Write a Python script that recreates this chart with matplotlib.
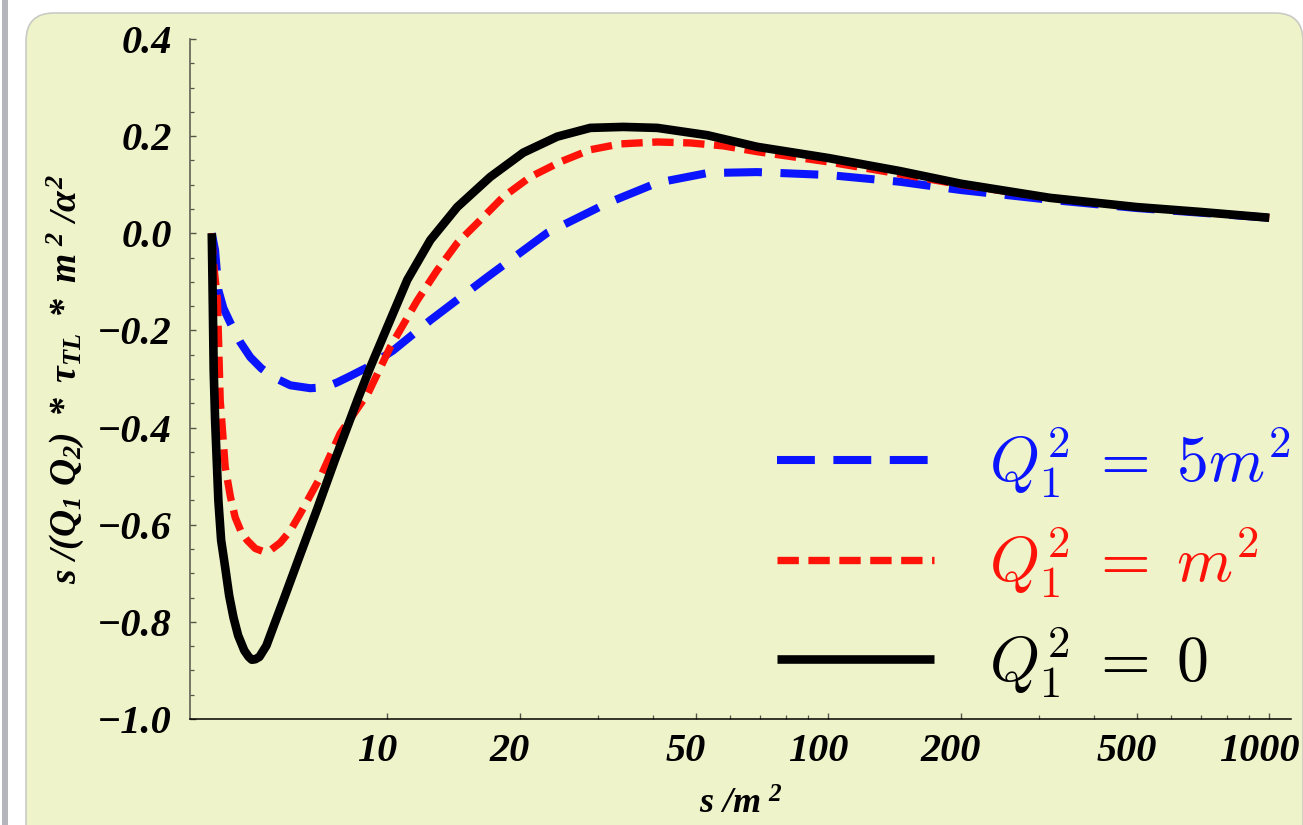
"""Light-by-light style tau_TL curves vs s/m^2 for three Q1^2 values."""

import matplotlib
matplotlib.use("Agg")
import matplotlib.pyplot as plt
import matplotlib.transforms as mtransforms
from matplotlib.font_manager import FontProperties
from matplotlib.patches import FancyBboxPatch, Rectangle

# s/m^2 sample points and curve values
s_q0 = [4.0, 4.02, 4.04, 4.07, 4.14, 4.20, 4.29, 4.38, 4.48, 4.59, 4.74, 4.85,
        4.93, 5.02, 5.13, 5.32, 5.54, 5.81, 6.35, 6.94, 7.62, 8.24, 8.60, 9.15,
        10.0, 11.1, 12.52, 14.41, 17.12, 20.34, 24.29, 28.86, 34.28, 40.95,
        53.17, 69.0, 100.0, 145.5, 200.0, 318.0, 500.0, 697.0, 1000.0]
tau_q0 = [0.0, -0.138, -0.282, -0.385, -0.550, -0.632, -0.688, -0.746, -0.791,
          -0.828, -0.859, -0.872, -0.878, -0.877, -0.872, -0.849, -0.806, -0.756,
          -0.661, -0.567, -0.465, -0.383, -0.338, -0.276, -0.193, -0.096, -0.014,
          0.054, 0.116, 0.166, 0.199, 0.217, 0.219, 0.217, 0.202, 0.178, 0.155,
          0.128, 0.102, 0.073, 0.054, 0.044, 0.032]

s_q1 = [4.0, 4.03, 4.12, 4.18, 4.23, 4.29, 4.41, 4.52, 4.66, 4.81, 5.02, 5.23,
        5.46, 5.72, 6.03, 6.35, 7.05, 7.82, 9.05, 10.16, 11.70, 12.98, 14.41,
        16.0, 18.32, 21.10, 24.68, 28.86, 33.75, 40.95, 48.65, 57.8, 69.0,
        100.0, 145.5, 200.0, 318.0, 500.0, 1000.0]
tau_q1 = [0.0, -0.055, -0.138, -0.344, -0.406, -0.481, -0.543, -0.585, -0.614,
          -0.632, -0.649, -0.655, -0.651, -0.637, -0.612, -0.577, -0.502, -0.412,
          -0.329, -0.234, -0.138, -0.076, -0.020, 0.021, 0.075, 0.116, 0.147,
          0.172, 0.184, 0.188, 0.186, 0.180, 0.168, 0.147, 0.122, 0.100, 0.073,
          0.054, 0.032]

s_q5 = [4.0, 4.07, 4.14, 4.25, 4.41, 4.64, 4.89, 5.18, 5.51, 6.03, 6.69, 7.23,
        7.70, 8.24, 9.01, 10.32, 12.52, 16.86, 23.06, 31.54, 40.95, 53.17, 69.0,
        100.0, 145.5, 200.0, 318.0, 500.0, 1000.0]
tau_q5 = [0.0, -0.035, -0.117, -0.154, -0.185, -0.224, -0.255, -0.278, -0.296,
          -0.313, -0.319, -0.317, -0.307, -0.294, -0.276, -0.241, -0.179, -0.090,
          0.001, 0.062, 0.104, 0.124, 0.126, 0.120, 0.106, 0.089, 0.069, 0.052,
          0.032]

labels = [r"$Q_1^2\;=\;5m^2$", r"$Q_1^2\;=\;m^2$", r"$Q_1^2\;=\;0$"]
x_major = [10, 20, 50, 100, 200, 500, 1000]
x_minor = [30, 40, 60, 70, 80, 90, 300, 400, 600, 700, 800, 900]
y_major = [-1.0, -0.8, -0.6, -0.4, -0.2, 0.0, 0.2, 0.4]

plt.rcParams["mathtext.fontset"] = "custom"
plt.rcParams["mathtext.rm"] = "Liberation Serif:italic:bold"
plt.rcParams["mathtext.it"] = "Liberation Serif:italic:bold"
plt.rcParams["mathtext.bf"] = "Liberation Serif:italic:bold"

W, H = 1303, 825
fig = plt.figure(figsize=(W / 100, H / 100), dpi=100)
fig.patch.set_facecolor("white")

# page decoration: grey strip + rounded yellow panel (kept behind the axes)
fig.patches.append(Rectangle((2, 0), 6, H, transform=None, zorder=-10,
                             facecolor="#b4b6bc", edgecolor="none"))
fig.patches.append(FancyBboxPatch((26, -40), W - 26, H - 13 + 40, transform=None,
                                  boxstyle="round,pad=0,rounding_size=28",
                                  facecolor="#eef3c9", edgecolor="#c9cbc4",
                                  linewidth=1.2, zorder=-10))

ax = fig.add_axes([190 / W, (H - 719) / H, 1101 / W, 680 / H])
ax.set_facecolor("none")

ax.plot(s_q5, tau_q5, color="#0a14ff", lw=5.8, dashes=(4.7, 2.3),
        dash_capstyle="butt", dash_joinstyle="round", label=labels[0])
ax.plot(s_q1, tau_q1, color="#ff1208", lw=5.3, dashes=(2.9, 1.3),
        dash_capstyle="butt", dash_joinstyle="round", label=labels[1])
ax.plot(s_q0, tau_q0, color="black", lw=6.2, solid_capstyle="butt",
        solid_joinstyle="round", label=labels[2])

ax.set_xscale("log")
ax.set_xlim(3.57, 1120)
ax.set_ylim(-1.0, 0.4)
ax.set_xticks(x_major)
ax.set_xticks(x_minor, minor=True)
ax.set_xticklabels([str(v) for v in x_major])
ax.set_yticks(y_major)
ax.set_yticks([v / 100 for v in range(-100, 41, 5)], minor=True)
ax.set_yticklabels([f"{v:.1f}".replace("-", "\u2212") for v in y_major])

for side in ("top", "right"):
    ax.spines[side].set_visible(False)
ax.spines["left"].set_color("#55554a")
ax.spines["bottom"].set_color("black")
for sp in ("left", "bottom"):
    ax.spines[sp].set_linewidth(1.1)

ax.tick_params(which="both", direction="in", color="#55554a")
ax.tick_params(which="major", length=4.5, width=1.0)
ax.tick_params(which="minor", length=3.2, width=0.9)
ax.tick_params(axis="y", which="major", pad=13)
ax.tick_params(axis="x", which="major", pad=10)

tick_font = FontProperties(family="Liberation Serif", style="italic",
                           weight="bold", size=29)
shift = mtransforms.ScaledTranslation(-10 / 100, 0, fig.dpi_scale_trans)
for lab in ax.get_xticklabels():
    lab.set_fontproperties(tick_font)
    lab.set_transform(lab.get_transform() + shift)
for lab in ax.get_yticklabels():
    lab.set_fontproperties(tick_font)

ax.set_xlabel(r"$s\ /m^{\ 2}$", fontsize=26, labelpad=12)
ax.set_ylabel(r"$s\ /(Q_1\ Q_2)\ *\ \tau_{TL}\ *\ m^{\ 2}\ /\alpha^{2}$",
              fontsize=27, labelpad=8)

leg_font = FontProperties(family="DejaVu Serif", size=46, math_fontfamily="cm")
ax.legend(loc="lower right", bbox_to_anchor=(1.0, 0.028), frameon=False,
          prop=leg_font, labelcolor="linecolor", handlelength=2.46,
          handletextpad=0.86, labelspacing=0.39, borderpad=0, borderaxespad=0)

fig.savefig("out.png", dpi=100)
